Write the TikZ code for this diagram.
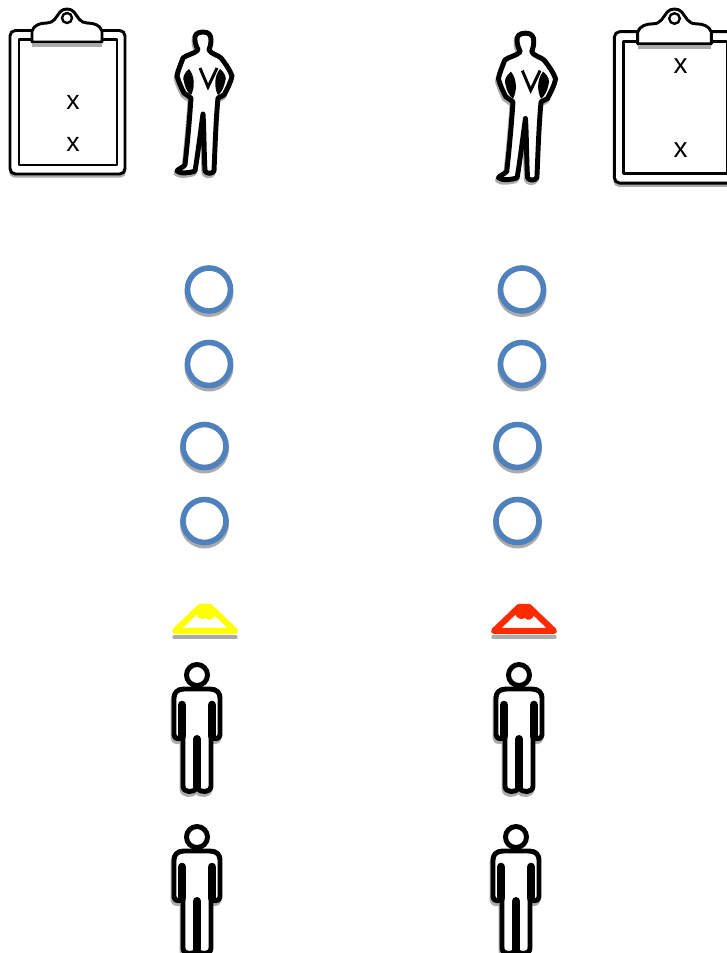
\documentclass[tikz,border=0pt]{standalone}
\usepackage{fontspec}
\setsansfont{Liberation Sans}
\definecolor{ink}{HTML}{000000}
\definecolor{ringblue}{HTML}{4F81BD}
\definecolor{haze}{HTML}{ABABAB}
\definecolor{hatyellow}{HTML}{FFFF00}
\definecolor{hatred}{HTML}{FF2A00}
% outlines, in pixels from the top centre of each figure
\newcommand{\clipoutline}{(-35,24) -- (-35,13) .. controls (-33,7) and (-27,5) .. (-20,5)
  .. controls (-13,5) and (-11,-1) .. (-7,-6) .. controls (-4,-10) and (4,-10) .. (7,-6)
  .. controls (11,-1) and (13,5) .. (20,5) .. controls (27,5) and (33,7) .. (35,13)
  -- (35,24) -- cycle}
\newcommand{\suitoutline}{(-1,4) .. controls (-7,4) and (-10,7) .. (-9,12)
  .. controls (-9,16) and (-7,19) .. (-6,22) .. controls (-10,26) and (-18,27) .. (-21,30)
  .. controls (-23,36) and (-26,42) .. (-27,48) .. controls (-25,55) and (-22,61) .. (-20,65)
  -- (-13,70) .. controls (-14,85) and (-16,110) .. (-19,137)
  .. controls (-22,140) and (-26,141) .. (-27,143) .. controls (-24,146) and (-14,145) .. (-9,143)
  .. controls (-6,125) and (-3,100) .. (-1,86) .. controls (0,100) and (0,125) .. (1,143)
  .. controls (3,146) and (8,146) .. (10,143) .. controls (11,120) and (12,90) .. (14,70)
  -- (20,67) .. controls (23,61) and (27,54) .. (28,48) .. controls (26,42) and (21,35) .. (17,30)
  .. controls (14,27) and (7,26) .. (5,22) .. controls (6,19) and (7,16) .. (7,12)
  .. controls (7,7) and (5,4) .. (-1,4) -- cycle}
\newcommand{\manoutline}{(-13,14) -- (13,14) .. controls (20,14) and (23,18) .. (23,23)
  -- (23,60) .. controls (23,65) and (14,65) .. (14,60)
  -- (14,111) .. controls (14,118) and (3,118) .. (0,113)
  .. controls (-3,118) and (-14,118) .. (-14,111)
  -- (-14,60) .. controls (-14,65) and (-23,65) .. (-23,60)
  -- (-23,23) .. controls (-23,18) and (-20,14) .. (-13,14) -- cycle}
\tikzset{
  font=\sffamily,
  outline/.style={draw=ink, fill=white, line width=3.7pt, line join=round},
  board outline/.style={draw=ink, fill=white, line width=2.2pt, line join=round},
  backdrop/.style={draw=haze, fill=haze, line width=3.7pt, line join=round},
  tally/.style={font=\sffamily\fontsize{20}{20}\selectfont, text=ink, inner sep=0pt},
  clipboard/.pic={
    \fill[haze, rounded corners=4pt] (-58,14) rectangle (59,159.5);
    \draw[board outline, rounded corners=4pt] (-57,12.5) rectangle (58,156);
    \draw[board outline] (-48,21.5) rectangle (50,147);
    \fill[haze] (-35,26) rectangle (35,29);
    \path[board outline] \clipoutline;
    \draw[ink, line width=1.8pt, fill=white] (0,0) circle (5);
  },
  suitman/.pic={
    \path[backdrop, shift={(-1,2.5)}] \suitoutline;
    \path[outline] \suitoutline;
    % arm gaps and collar
    \fill[ink] (-15,41) .. controls (-20,45) and (-22,50) .. (-20,54) .. controls (-19,59) and (-17,64) .. (-13,67)
      .. controls (-9,60) and (-9,48) .. (-15,41) -- cycle;
    \fill[ink] (16,41) .. controls (21,45) and (23,50) .. (21,54) .. controls (20,59) and (18,64) .. (14,67)
      .. controls (10,60) and (10,48) .. (16,41) -- cycle;
    \draw[ink, line width=2.2pt] (-4,40) -- (4,59) -- (13,40);
  },
  figureman/.pic={
    \path[backdrop, shift={(-1,3)}] \manoutline;
    \path[outline] \manoutline;
    \draw[outline] (0,0) circle (10.5);
    \draw[ink, line width=6.5pt, line cap=round] (-15,30) -- (-15,61);
    \draw[ink, line width=6.5pt, line cap=round] (15,30) -- (15,61);
    \draw[ink, line width=6pt, line cap=round] (0,64) -- (0,112);
  },
  ringmark/.pic={
    \fill[haze] (0,3) circle (24.5);
    \draw[draw=ringblue, fill=white, line width=4.2pt] (0,0) circle (21.5);
  },
  hatmark/.pic={
    \draw[haze, line width=2.6pt, line cap=round] (-31,33) -- (31,33);
    \draw[draw=#1, line width=4.6pt, line join=round, fill=white]
      (-30,27) -- (-5,3) -- (5,3) -- (30,27) -- cycle;
    \fill[#1] (-7,2) -- (7,2) -- (10,11) .. controls (9,16) and (3,17) .. (1,14)
      .. controls (-2,16) and (-7,15) .. (-9,10) -- cycle;
  }
}
\begin{document}
\begin{tikzpicture}[x=.75pt,y=-.75pt]
\useasboundingbox (0,0) rectangle (726,953);

% Top row: the two boards and the two standing men.
\pic (boardleft) at (67,18) {clipboard};
\pic[scale=1.055] (boardright) at (674.5,18.5) {clipboard};
\node[tally] (xa) at (73,102) {x};
\node[tally] (xb) at (73,144) {x};
\node[tally, font=\sffamily\fontsize{21}{21}\selectfont] (xc) at (680.5,66) {x};
\node[tally, font=\sffamily\fontsize{21}{21}\selectfont] (xd) at (680.5,150) {x};
\pic (suitleft) at (204,28) {suitman};
\pic[scale=1.04] (suitright) at (526.5,29) {suitman};

% Four rings per column.
\foreach \x/\y/\n in {209/289.5/a,522/289.5/b,209/364/c,522/364/d,
  204.5/446/e,517.5/446/f,204.5/521/g,517.5/521/h}
  \pic (ring\n) at (\x,\y) {ringmark};

% Hats and the plain figures below them.
\pic (hatleft) at (205,604) {hatmark=hatyellow};
\pic (hatright) at (524,604) {hatmark=hatred};
\foreach \x/\y/\n in {197/675/a,519/675/b,197/837/c,516/837/d}
  \pic (man\n) at (\x,\y) {figureman};

\end{tikzpicture}
\end{document}
